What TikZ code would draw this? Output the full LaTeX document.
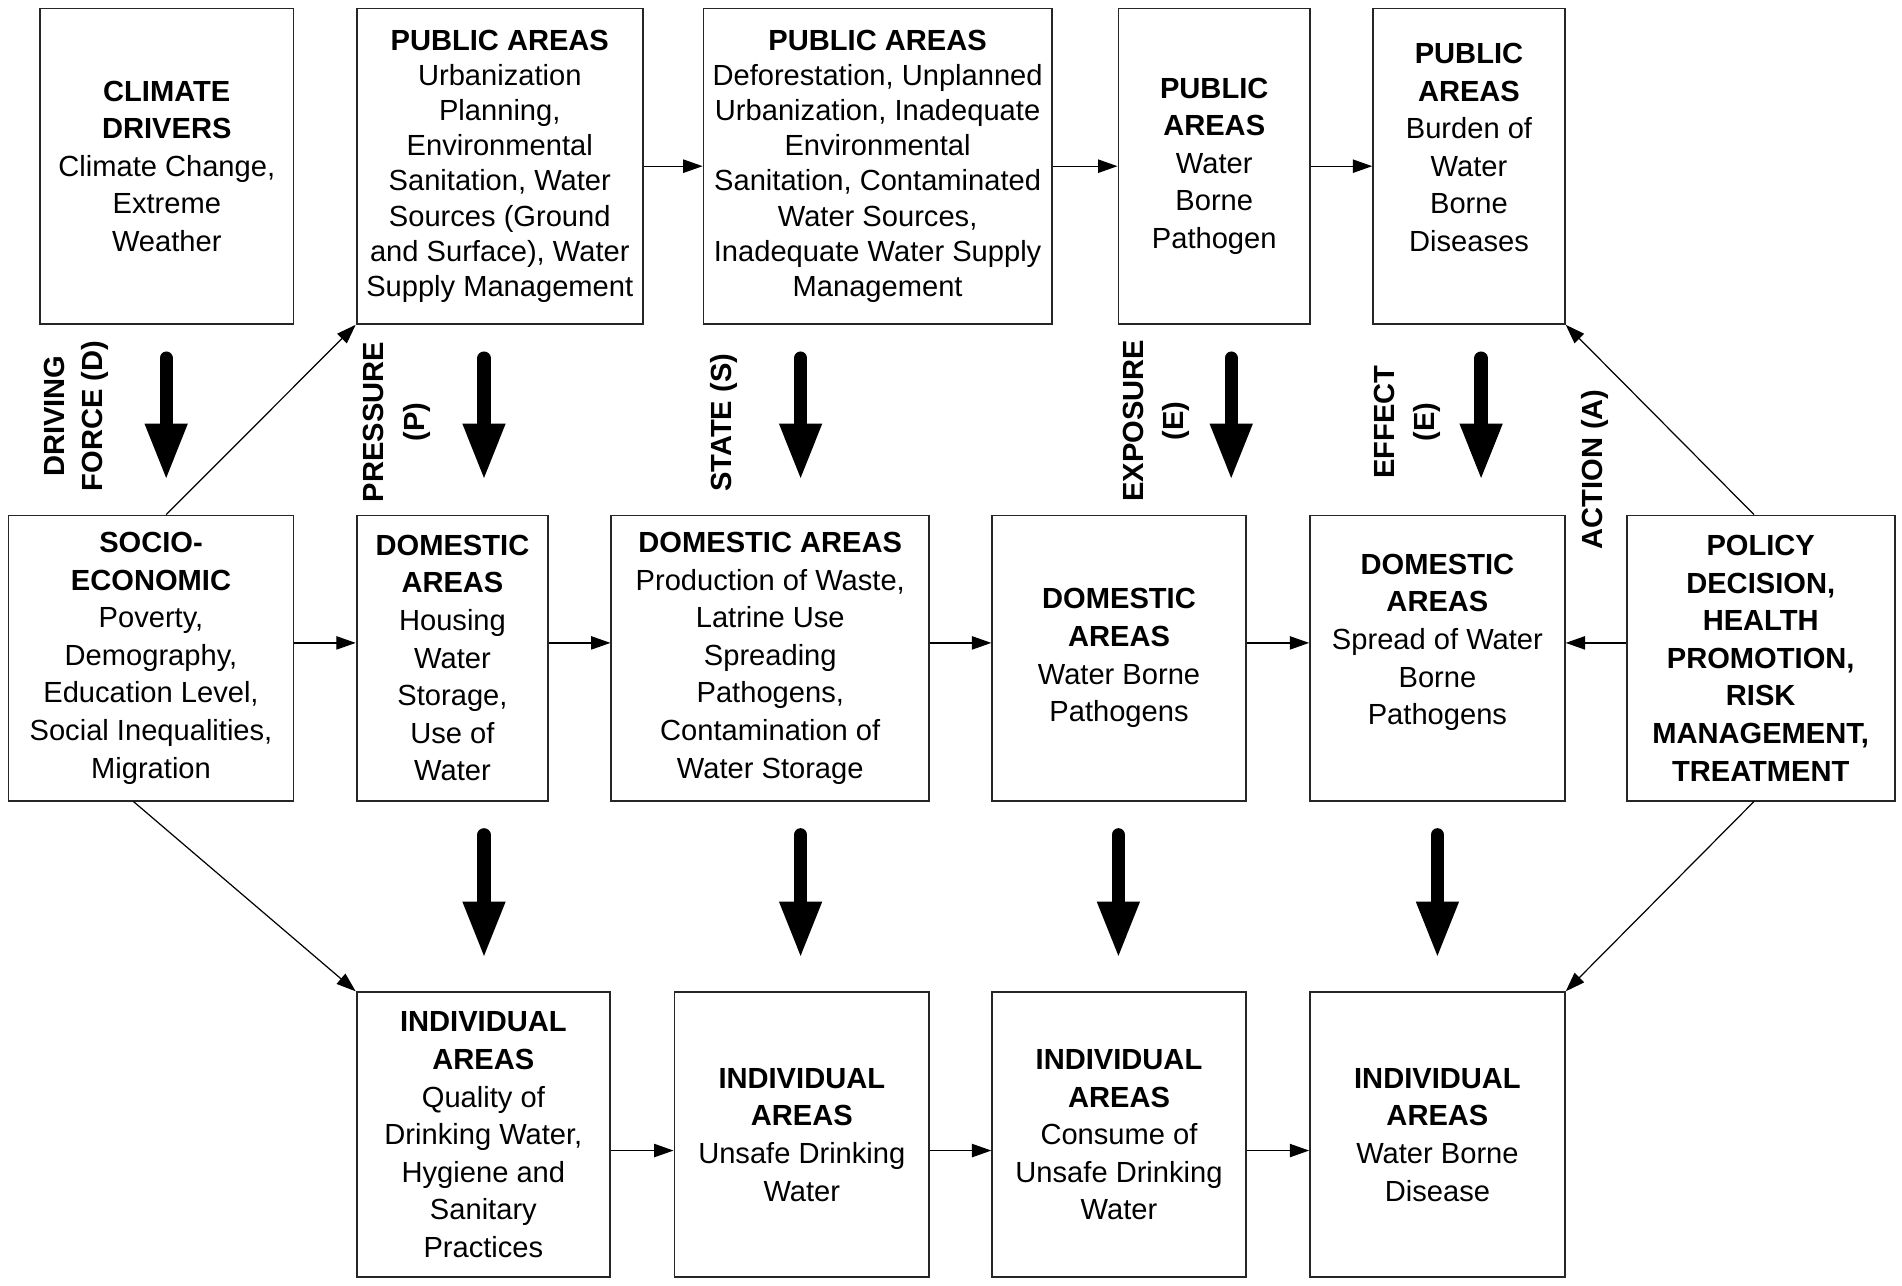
\documentclass[tikz,border=0pt]{standalone}
\usepackage{fontspec}
\setmainfont{Liberation Sans}
\usetikzlibrary{arrows.meta,calc}
\begin{document}
\begin{tikzpicture}[x=0.5pt,y=-0.5pt,
  font=\fontsize{12}{15.5}\selectfont,
  box/.style={draw=black!85, line width=0.75pt, inner sep=0pt, align=center, minimum height=117.5pt},
  tallbox/.style={box, minimum height=130pt},
  tight/.style={font=\fontsize{12}{14.5}\selectfont},
  thin/.style={line width=0.5pt, -{Triangle[length=8pt,width=5.5pt]}},
  fat/.style={line width=5.5pt, line cap=round, -{Triangle[length=23.5pt,width=16pt]}},
  vlabel/.style={rotate=90, align=center, font=\fontsize{12}{15.5}\selectfont\bfseries}]
\useasboundingbox (0,0) rectangle (1568,1060);

% Row 1
\node[tallbox, minimum width=104.5pt] (climate) at (137.5,137) {\textbf{CLIMATE}\\\textbf{DRIVERS}\\Climate Change,\\Extreme\\Weather};
\node[tallbox, tight, minimum width=118pt] (pub1) at (412,137) {\textbf{PUBLIC AREAS}\\Urbanization\\Planning,\\Environmental\\Sanitation, Water\\Sources (Ground\\and Surface), Water\\Supply Management};
\node[tallbox, tight, minimum width=143.5pt] (pub2) at (723.5,137) {\textbf{PUBLIC AREAS}\\Deforestation, Unplanned\\Urbanization, Inadequate\\Environmental\\Sanitation, Contaminated\\Water Sources,\\Inadequate Water Supply\\Management};
\node[tallbox, minimum width=79pt] (pub3) at (1001,137) {\textbf{PUBLIC}\\\textbf{AREAS}\\Water\\Borne\\Pathogen};
\node[tallbox, minimum width=79pt] (pub4) at (1211,137) {\textbf{PUBLIC}\\\textbf{AREAS}\\Burden of\\Water\\Borne\\Diseases\\\mbox{}};

% Row 2
\node[box, minimum width=117.5pt] (socio) at (124.5,542.5) {\textbf{SOCIO-}\\\textbf{ECONOMIC}\\Poverty,\\Demography,\\Education Level,\\Social Inequalities,\\Migration};
\node[box, minimum width=79pt] (dom1) at (373,542.5) {\textbf{DOMESTIC}\\\textbf{AREAS}\\Housing\\Water\\Storage,\\Use of\\Water};
\node[box, minimum width=131pt] (dom2) at (635,542.5) {\textbf{DOMESTIC AREAS}\\Production of Waste,\\Latrine Use\\Spreading\\Pathogens,\\Contamination of\\Water Storage};
\node[box, minimum width=104.5pt] (dom3) at (922.5,542.5) {\textbf{DOMESTIC}\\\textbf{AREAS}\\Water Borne\\Pathogens};
\node[box, minimum width=105pt] (dom4) at (1185,542.5) {\textbf{DOMESTIC}\\\textbf{AREAS}\\Spread of Water\\Borne\\Pathogens\\\mbox{}};
\node[box, minimum width=110.5pt] (policy) at (1451.5,542.5) {\textbf{POLICY}\\\textbf{DECISION,}\\\textbf{HEALTH}\\\textbf{PROMOTION,}\\\textbf{RISK}\\\textbf{MANAGEMENT,}\\\textbf{TREATMENT}};

% Row 3
\node[box, minimum width=104.5pt] (ind1) at (398.5,935.5) {\textbf{INDIVIDUAL}\\\textbf{AREAS}\\Quality of\\Drinking Water,\\Hygiene and\\Sanitary\\Practices};
\node[box, minimum width=105pt] (ind2) at (661,935.5) {\textbf{INDIVIDUAL}\\\textbf{AREAS}\\Unsafe Drinking\\Water};
\node[box, minimum width=104.5pt] (ind3) at (922.5,935.5) {\textbf{INDIVIDUAL}\\\textbf{AREAS}\\Consume of\\Unsafe Drinking\\Water};
\node[box, minimum width=105pt] (ind4) at (1185,935.5) {\textbf{INDIVIDUAL}\\\textbf{AREAS}\\Water Borne\\Disease};

% Rotated labels
\node[vlabel] (lbld) at (63,343) {DRIVING\\FORCE (D)};
\node[vlabel] (lblp) at (327,348) {PRESSURE\\[1.5pt](P)};
\node[vlabel] (lbls) at (597,348.5) {STATE (S)};
\node[vlabel] (lble) at (953,347) {EXPOSURE\\[1pt](E)};
\node[vlabel] (lblf) at (1160,348) {EFFECT\\[1pt](E)};
\node[vlabel] (lbla) at (1315,387) {ACTION (A)};

% Fat arrows row 1 -> row 2
\draw[fat] ($(climate.south)+(-0.5,27.5)$) -- ($(socio.north)+(12.5,-28)$);
\draw[fat] ($(pub1.south)+(-13,27.5)$) -- ($(dom1.north)+(26,-28)$);
\draw[fat] ($(pub2.south)+(-63.5,27.5)$) -- ($(dom2.north)+(25,-28)$);
\draw[fat] ($(pub3.south)+(14,27.5)$) -- ($(dom3.north)+(92.5,-28)$);
\draw[fat] ($(pub4.south)+(10,27.5)$) -- ($(dom4.north)+(36,-28)$);

% Fat arrows row 2 -> row 3
\draw[fat] ($(dom1.south)+(26,27.5)$) -- ($(ind1.north)+(0.5,-27)$);
\draw[fat] ($(dom2.south)+(25,27.5)$) -- ($(ind2.north)+(-1,-27)$);
\draw[fat] ($(dom3.south)+(-0.5,27.5)$) -- ($(ind3.north)+(-0.5,-27)$);
\draw[fat] ($(dom4.south)+(0,27.5)$) -- ($(ind4.north)+(0,-27)$);

% Thin arrows row 1
\draw[thin] (pub1.east) -- (pub2.west);
\draw[thin] (pub2.east) -- (pub3.west);
\draw[thin] (pub3.east) -- (pub4.west);

% Thin arrows row 2
\draw[thin] ($(socio.east)+(0,-12.5)$) -- ($(dom1.west)+(0,-12.5)$);
\draw[thin] ($(dom1.east)+(0,-12.5)$) -- ($(dom2.west)+(0,-12.5)$);
\draw[thin] ($(dom2.east)+(0,-12.5)$) -- ($(dom3.west)+(0,-12.5)$);
\draw[thin] ($(dom3.east)+(0,-12.5)$) -- ($(dom4.west)+(0,-12.5)$);
\draw[thin] ($(policy.west)+(0,-12.5)$) -- ($(dom4.east)+(0,-12.5)$);

% Thin arrows row 3
\draw[thin] ($(ind1.east)+(0,13)$) -- ($(ind2.west)+(0,13)$);
\draw[thin] ($(ind2.east)+(0,13)$) -- ($(ind3.west)+(0,13)$);
\draw[thin] ($(ind3.east)+(0,13)$) -- ($(ind4.west)+(0,13)$);

% Diagonals
\draw[thin] ($(socio.north)+(12.5,0)$) -- (pub1.south west);
\draw[thin] ($(socio.south)+(-14.5,0)$) -- (ind1.north west);
\draw[thin] ($(policy.north)+(-5.5,0)$) -- (pub4.south east);
\draw[thin] ($(policy.south)+(-5.5,0)$) -- (ind4.north east);
\end{tikzpicture}
\end{document}
